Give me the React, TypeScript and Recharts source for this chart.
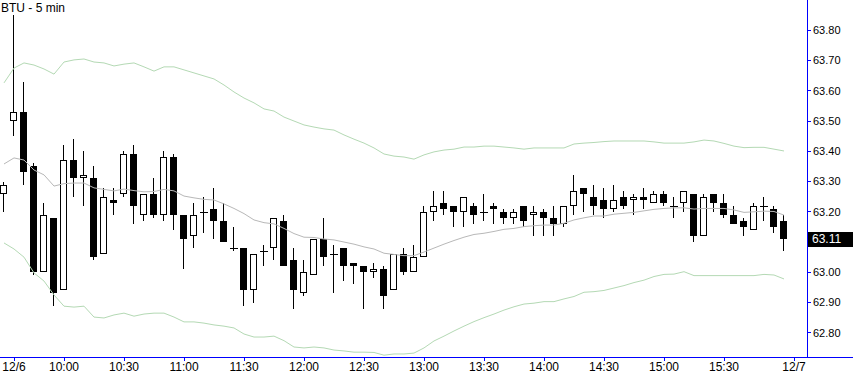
import { ComposedChart, Bar, Line, XAxis, YAxis, ReferenceLine } from 'recharts';

// OHLC of each 5-minute bar: last bar of 12/5, then the 12/6 session
const opens = [
  63.26, 63.5, 63.53, 63.35, 63.0, 63.18, 62.94, 63.37, 63.31, 63.31,
  63.06, 63.24, 63.26, 63.39, 63.19, 63.26, 63.19, 63.38, 63.19, 63.12,
  63.2, 63.21, 63.17, 63.08, 63.08, 62.94, 63.07, 63.08, 63.17, 63.04,
  62.93, 62.99, 63.11, 63.06, 63.08, 63.03, 63.02, 63.0, 63.01, 62.94,
  63.06, 63.0, 63.05, 63.2, 63.23, 63.22, 63.2, 63.22, 63.2, 63.22,
  63.2, 63.18, 63.22, 63.19, 63.2, 63.18, 63.16, 63.22, 63.28, 63.25,
  63.24, 63.21, 63.25, 63.24, 63.25, 63.23, 63.26, 63.22, 63.23, 63.26,
  63.12, 63.26, 63.23, 63.19, 63.17, 63.14, 63.22, 63.21, 63.17,
];
const closes = [
  63.29, 63.53, 63.33, 63.0, 63.19, 62.93, 63.37, 63.31, 63.32, 63.05,
  63.25, 63.23, 63.39, 63.22, 63.26, 63.19, 63.38, 63.19, 63.11, 63.19,
  63.2, 63.17, 63.1, 63.08, 62.94, 63.06, 63.07, 63.18, 63.02, 62.94,
  63.0, 63.11, 63.05, 63.06, 63.02, 63.02, 63.0, 63.01, 62.92, 63.06,
  63.0, 63.05, 63.2, 63.22, 63.21, 63.2, 63.25, 63.19, 63.2, 63.21,
  63.18, 63.2, 63.17, 63.2, 63.18, 63.16, 63.22, 63.27, 63.26, 63.22,
  63.21, 63.24, 63.22, 63.25, 63.24, 63.26, 63.23, 63.22, 63.27, 63.12,
  63.25, 63.23, 63.19, 63.16, 63.15, 63.22, 63.22, 63.15, 63.11,
];
const highs = [
  63.3, 63.85, 63.63, 63.36, 63.23, 63.18, 63.42, 63.44, 63.4, 63.35,
  63.28, 63.28, 63.4, 63.42, 63.26, 63.31, 63.4, 63.39, 63.19, 63.23,
  63.25, 63.28, 63.23, 63.15, 63.08, 63.06, 63.09, 63.18, 63.19, 63.08,
  63.04, 63.11, 63.18, 63.09, 63.08, 63.03, 63.02, 63.03, 63.02, 63.06,
  63.08, 63.09, 63.22, 63.27, 63.27, 63.22, 63.25, 63.23, 63.26, 63.23,
  63.21, 63.21, 63.22, 63.22, 63.21, 63.22, 63.22, 63.32, 63.28, 63.29,
  63.28, 63.29, 63.27, 63.26, 63.28, 63.27, 63.27, 63.25, 63.27, 63.26,
  63.26, 63.26, 63.26, 63.22, 63.18, 63.23, 63.25, 63.22, 63.19,
];
const lows = [
  63.2, 63.45, 63.29, 62.99, 63.0, 62.89, 62.94, 63.25, 63.22, 63.04,
  63.06, 63.19, 63.25, 63.16, 63.17, 63.18, 63.17, 63.14, 63.01, 63.08,
  63.13, 63.11, 63.1, 63.07, 62.89, 62.9, 63.02, 63.04, 63.02, 62.88,
  62.92, 62.99, 63.02, 62.93, 62.97, 62.96, 62.88, 62.98, 62.88, 62.94,
  62.99, 63.0, 63.05, 63.17, 63.19, 63.15, 63.15, 63.16, 63.17, 63.16,
  63.16, 63.16, 63.15, 63.12, 63.12, 63.12, 63.15, 63.19, 63.2, 63.19,
  63.18, 63.2, 63.21, 63.19, 63.21, 63.23, 63.22, 63.18, 63.2, 63.1,
  63.12, 63.2, 63.18, 63.16, 63.12, 63.14, 63.17, 63.13, 63.07,
];

// Bollinger bands
const upperBand = [
  63.626, 63.675, 63.692, 63.685, 63.672, 63.655, 63.695, 63.702, 63.705, 63.695,
  63.692, 63.682, 63.688, 63.692, 63.679, 63.665, 63.679, 63.679, 63.669, 63.659,
  63.649, 63.639, 63.619, 63.596, 63.576, 63.56, 63.54, 63.533, 63.513, 63.5,
  63.487, 63.48, 63.474, 63.47, 63.454, 63.44, 63.427, 63.411, 63.391, 63.384,
  63.381, 63.374, 63.388, 63.398, 63.404, 63.407, 63.414, 63.414, 63.417, 63.417,
  63.414, 63.411, 63.407, 63.411, 63.411, 63.411, 63.411, 63.424, 63.427, 63.429,
  63.432, 63.434, 63.434, 63.434, 63.434, 63.431, 63.427, 63.427, 63.427, 63.431,
  63.437, 63.434, 63.426, 63.417, 63.412, 63.413, 63.413, 63.407, 63.401,
];
const midBand = [
  63.358, 63.378, 63.371, 63.338, 63.322, 63.285, 63.293, 63.295, 63.295, 63.279,
  63.274, 63.269, 63.275, 63.27, 63.266, 63.267, 63.274, 63.269, 63.252, 63.246,
  63.241, 63.239, 63.226, 63.211, 63.194, 63.173, 63.164, 63.16, 63.145, 63.128,
  63.116, 63.115, 63.11, 63.107, 63.1, 63.093, 63.084, 63.077, 63.063, 63.059,
  63.055, 63.055, 63.067, 63.08, 63.093, 63.105, 63.116, 63.125, 63.129, 63.135,
  63.142, 63.145, 63.151, 63.154, 63.156, 63.156, 63.162, 63.173, 63.18, 63.186,
  63.186, 63.192, 63.195, 63.198, 63.203, 63.208, 63.211, 63.213, 63.213, 63.209,
  63.211, 63.211, 63.211, 63.206, 63.198, 63.2, 63.202, 63.201, 63.189,
];
const lowerBand = [
  63.097, 63.077, 63.05, 62.998, 62.971, 62.925, 62.888, 62.885, 62.888, 62.852,
  62.849, 62.859, 62.865, 62.855, 62.862, 62.865, 62.865, 62.852, 62.836, 62.836,
  62.832, 62.826, 62.822, 62.816, 62.796, 62.786, 62.786, 62.789, 62.774, 62.753,
  62.75, 62.753, 62.75, 62.743, 62.74, 62.736, 62.736, 62.735, 62.726, 62.73,
  62.73, 62.733, 62.75, 62.773, 62.789, 62.806, 62.822, 62.837, 62.85, 62.862,
  62.875, 62.886, 62.895, 62.898, 62.903, 62.903, 62.912, 62.92, 62.934, 62.936,
  62.94, 62.948, 62.956, 62.966, 62.974, 62.986, 62.993, 62.994, 63.002, 62.989,
  62.989, 62.989, 62.989, 62.989, 62.989, 62.989, 62.993, 62.991, 62.978,
];

// bar index of each time label (0 = last bar of 12/5, 1 = first bar of 12/6, 79 = first slot of 12/7)
const tickIndex = [1, 6, 12, 18, 24, 30, 36, 42, 48, 54, 60, 66, 72, 79];
const tickLabels = [
  '12/6', '10:00', '10:30', '11:00', '11:30', '12:00', '12:30',
  '13:00', '13:30', '14:00', '14:30', '15:00', '15:30', '12/7',
];
// 63.10 is hidden behind the last-price tag
const priceTicks = [62.8, 62.9, 63.0, 63.2, 63.3, 63.4, 63.5, 63.6, 63.7, 63.8];

const AXIS = '#0000ff';
const axisStroke = { stroke: AXIS, shapeRendering: 'crispEdges' };

const data = opens.map((open, i) => ({
  idx: i,
  open,
  close: closes[i],
  high: highs[i],
  low: lows[i],
  range: [lows[i], highs[i]],
  upper: upperBand[i],
  mid: midBand[i],
  lower: lowerBand[i],
}));

const Candle = (props: any) => {
  const { x, y, width, height, payload } = props;
  if (payload == null || payload.open == null) return null;
  const { open, close, high, low } = payload;
  const top = Math.min(y, y + height);
  const h = Math.abs(height);
  const k = h / (high - low);
  const py = (v: number) => Math.round(top + (high - v) * k);
  const cx = Math.round(x + width / 2) - 0.5;
  const bTop = py(Math.max(open, close));
  const bBot = py(Math.min(open, close));
  const up = close > open;
  return (
    <g>
      <line x1={cx} x2={cx} y1={py(high)} y2={py(low)} stroke="#000" strokeWidth={1} />
      {open === close ? (
        <line x1={cx - 3.5} x2={cx + 4.5} y1={bTop + 0.5} y2={bTop + 0.5} stroke="#000" />
      ) : up ? (
        <rect x={cx - 3} y={bTop + 0.5} width={6} height={Math.max(bBot - bTop - 1, 1)} fill="#fff" stroke="#000" />
      ) : (
        <rect x={cx - 3.5} y={bTop} width={7} height={Math.max(bBot - bTop, 2)} fill="#000" />
      )}
    </g>
  );
};

const PriceTag = (props: any) => {
  const vb = props.viewBox || {};
  const last = closes[closes.length - 1];
  const left = vb.x + vb.width + 1;
  return (
    <g>
      <rect x={left} y={vb.y - 7} width={46} height={15} fill="#000" />
      <text x={left + 4} y={vb.y + 4} fill="#fff" fontSize={12} fontFamily="Liberation Sans, Arial, sans-serif">
        {last.toFixed(2)}
      </text>
    </g>
  );
};

export default function App() {
  return (
    <div style={{ position: 'absolute', left: 0, top: 0, width: 853, height: 376, background: '#fff' }}>
      <ComposedChart width={853} height={376} data={data} margin={{ top: 0, right: 0, bottom: 0, left: 0 }}>
        <XAxis
          dataKey="idx"
          type="number"
          domain={[-0.4, 80.3]}
          allowDataOverflow
          height={19}
          ticks={tickIndex}
          interval={0}
          tickFormatter={(v: number) => tickLabels[tickIndex.indexOf(v)] ?? ''}
          axisLine={axisStroke}
          tickLine={axisStroke}
          tickSize={4}
          tickMargin={1}
          tick={{ fill: '#000', fontSize: 12, fontFamily: 'Liberation Sans Narrow, Arial Narrow, sans-serif' }}
        />
        <YAxis
          orientation="right"
          width={46}
          domain={[62.72, 63.9]}
          ticks={priceTicks}
          allowDataOverflow
          tickFormatter={(v: number) => v.toFixed(2)}
          axisLine={axisStroke}
          tickLine={axisStroke}
          tickSize={4}
          tickMargin={2}
          tick={{ fill: '#000', fontSize: 11, fontFamily: 'Liberation Sans, Arial, sans-serif' }}
        />
        <Line dataKey="upper" type="linear" stroke="#b4d9b4" strokeWidth={1} dot={false} activeDot={false} isAnimationActive={false} />
        <Line dataKey="lower" type="linear" stroke="#b4d9b4" strokeWidth={1} dot={false} activeDot={false} isAnimationActive={false} />
        <Line dataKey="mid" type="linear" stroke="#b8b8b8" strokeWidth={1} dot={false} activeDot={false} isAnimationActive={false} />
        <Bar dataKey="range" barSize={7} shape={<Candle />} isAnimationActive={false} />
        <ReferenceLine y={closes[closes.length - 1]} stroke="none" label={<PriceTag />} />
      </ComposedChart>
      <div style={{ position: 'absolute', left: 807, top: 357, width: 46, height: 1, background: AXIS }} />
      <div
        style={{
          position: 'absolute',
          left: 1,
          top: 1,
          fontSize: 12,
          fontFamily: 'Liberation Sans, Arial, sans-serif',
          color: '#000',
          whiteSpace: 'nowrap',
        }}
      >
        BTU - 5 min
      </div>
    </div>
  );
}
